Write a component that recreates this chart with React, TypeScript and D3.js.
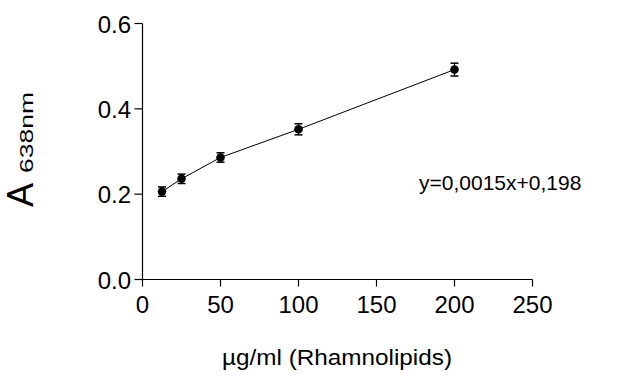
import React from "react";
import * as d3 from "d3";

const concentrations = [12.5, 25, 50, 100, 200];
const absorbance = [0.206, 0.236, 0.286, 0.352, 0.492];
const errors = [0.011, 0.011, 0.011, 0.013, 0.015];
const xTicks = [0, 50, 100, 150, 200, 250];
const yTicks = [0.0, 0.2, 0.4, 0.6];
const equationText = "y=0,0015x+0,198";
const xTitle = "µg/ml (Rhamnolipids)";

const W = 618;
const H = 380;
const FONT = "'Liberation Sans', Arial, sans-serif";

export default function App() {
  const x = d3.scaleLinear().domain([0, 250]).range([142.5, 532.5]);
  const y = d3.scaleLinear().domain([0, 0.6]).range([279.5, 23.5]);
  const line = d3
    .line<number>()
    .x((_, i) => x(concentrations[i]))
    .y((d) => y(d));

  return (
    <svg
      width={W}
      height={H}
      style={{ position: "absolute", left: 0, top: 0, background: "#fff" }}
      fontFamily={FONT}
    >
      {/* axes */}
      <line x1={x(0)} x2={x(250)} y1={y(0)} y2={y(0)} stroke="#000" strokeWidth={1.2} />
      <line x1={x(0)} x2={x(0)} y1={y(0)} y2={y(0.6)} stroke="#000" strokeWidth={1.2} />
      {xTicks.map((t) => (
        <g key={"x" + t}>
          <line x1={x(t)} x2={x(t)} y1={y(0)} y2={y(0) + 7} stroke="#000" strokeWidth={1.2} />
          <text x={x(t)} y={313} textAnchor="middle" fontSize={24} fill="#000">
            {t}
          </text>
        </g>
      ))}
      {yTicks.map((t) => (
        <g key={"y" + t}>
          <line x1={x(0) - 8} x2={x(0)} y1={y(t)} y2={y(t)} stroke="#000" strokeWidth={1.2} />
          <text x={131} y={y(t) + 9} textAnchor="end" fontSize={24} fill="#000">
            {t.toFixed(1)}
          </text>
        </g>
      ))}

      {/* line */}
      <path d={line(absorbance) || ""} fill="none" stroke="#000" strokeWidth={1} />

      {/* error bars + points */}
      {absorbance.map((v, i) => {
        const cx = x(concentrations[i]);
        return (
          <g key={"p" + i}>
            <line x1={cx} x2={cx} y1={y(v - errors[i])} y2={y(v + errors[i])} stroke="#000" strokeWidth={1.2} />
            <line x1={cx - 4} x2={cx + 4} y1={y(v - errors[i])} y2={y(v - errors[i])} stroke="#000" strokeWidth={1.5} />
            <line x1={cx - 4} x2={cx + 4} y1={y(v + errors[i])} y2={y(v + errors[i])} stroke="#000" strokeWidth={1.5} />
            <circle cx={cx} cy={y(v)} r={4.3} fill="#000" />
          </g>
        );
      })}

      {/* equation */}
      <text x={419} y={190} fontSize={21} fill="#000">
        {equationText}
      </text>

      {/* x title */}
      <text x={337} y={365} textAnchor="middle" fontSize={22} textLength={230} lengthAdjust="spacingAndGlyphs" fill="#000">
        {xTitle}
      </text>

      {/* y title */}
      <g transform="translate(33,207) rotate(-90)">
        <text x={0} y={0} fontSize={36} fill="#000">
          A
        </text>
        <text x={115} y={0} fontSize={19} textAnchor="end" textLength={81} lengthAdjust="spacingAndGlyphs" fill="#000">
          638nm
        </text>
      </g>
    </svg>
  );
}
